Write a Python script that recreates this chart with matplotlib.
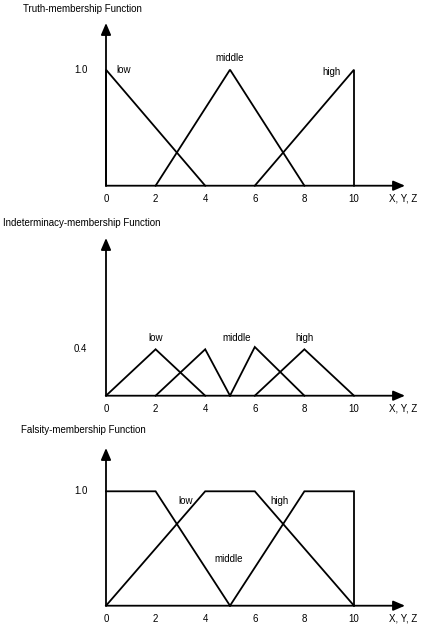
import matplotlib.pyplot as plt

plt.rcParams['font.family'] = ['Liberation Sans', 'DejaVu Sans']

# x positions shared by the three panels
ticks = [0, 2, 4, 6, 8, 10]
tick_labels = ['0', '2', '4', '6', '8', '10']

# Truth-membership
truth_low_x = [0, 0, 4]
truth_low_y = [0, 1.0, 0]
truth_mid_x = [2, 5, 8]
truth_mid_y = [0, 1.0, 0]
truth_high_x = [6, 10, 10]
truth_high_y = [0, 1.0, 0]

# Indeterminacy-membership
ind_low_x = [0, 2, 4]
ind_low_y = [0, 0.4, 0]
ind_mid1_x = [2, 4, 5]
ind_mid1_y = [0, 0.4, 0]
ind_mid2_x = [5, 6, 8]
ind_mid2_y = [0, 0.42, 0]
ind_high_x = [6, 8, 10]
ind_high_y = [0, 0.4, 0]

# Falsity-membership
fal_low_x = [0, 2, 5]
fal_low_y = [1.0, 1.0, 0]
fal_mid_x = [0, 4, 6, 10]
fal_mid_y = [0, 1.0, 1.0, 0]
fal_high_x = [5, 8, 10, 10]
fal_high_y = [0, 1.0, 1.0, 0]

W, H = 427, 629
fig = plt.figure(figsize=(W / 100, H / 100), dpi=100)

x0, xunit = 106, 24.8


def make_panel(base_px, unit_px, top_px, title, title_xy, ylab, ylab_val,
               series, labels):
    ax = fig.add_axes([x0 / W, 1 - base_px / H, 10 * xunit / W, unit_px / H])
    ax.set_xlim(0, 10)
    ax.set_ylim(0, 1)
    for s in ax.spines.values():
        s.set_visible(False)
    ax.set_yticks([])
    ax.set_xticks(ticks)
    ax.set_xticklabels(tick_labels)
    ax.tick_params(axis='x', length=0, pad=6, labelsize=7)

    for xs, ys in series:
        ax.plot(xs, ys, color='k', lw=1.3, clip_on=False, solid_joinstyle='miter')

    # axis arrows
    x_end = (405 - x0) / xunit
    y_end = (base_px - top_px) / unit_px
    arrow = dict(arrowstyle='-|>,head_length=0.7,head_width=0.3', color='k',
                 lw=1.3, shrinkA=0, shrinkB=0)
    ax.annotate('', xy=(x_end, 0), xytext=(0, 0), arrowprops=arrow,
                annotation_clip=False)
    ax.annotate('', xy=(0, y_end), xytext=(0, 0), arrowprops=arrow,
                annotation_clip=False)

    ax.text(-0.75, ylab_val, ylab, ha='right', va='center', fontsize=7)
    ax.text((389 - x0) / xunit, -13 / unit_px, 'X, Y, Z', ha='left',
            va='center', fontsize=7)
    for txt, lx, ly in labels:
        ax.text(lx, ly, txt, ha='center', va='center', fontsize=7)

    fig.text(title_xy[0] / W, 1 - title_xy[1] / H, title, ha='left',
             va='center', fontsize=7)
    return ax


make_panel(185.7, 116, 23, 'Truth-membership Function', (23, 9), '1.0', 1.0,
           [(truth_low_x, truth_low_y), (truth_mid_x, truth_mid_y),
            (truth_high_x, truth_high_y)],
           [('low', 0.7, 1.0), ('middle', 5.0, 1.1), ('high', 9.1, 0.98)])

make_panel(395.7, 116, 238, 'Indeterminacy-membership Function', (3, 222.7),
           '0.4', 0.4,
           [(ind_low_x, ind_low_y), (ind_mid1_x, ind_mid1_y),
            (ind_mid2_x, ind_mid2_y), (ind_high_x, ind_high_y)],
           [('low', 2.0, 0.5), ('middle', 5.25, 0.5), ('high', 8.0, 0.5)])

make_panel(605.7, 114.4, 448, 'Falsity-membership Function', (21, 430),
           '1.0', 1.0,
           [(fal_low_x, fal_low_y), (fal_mid_x, fal_mid_y),
            (fal_high_x, fal_high_y)],
           [('low', 3.2, 0.915), ('high', 7.0, 0.915), ('middle', 4.95, 0.405)])

fig.savefig('out.png', dpi=100)
